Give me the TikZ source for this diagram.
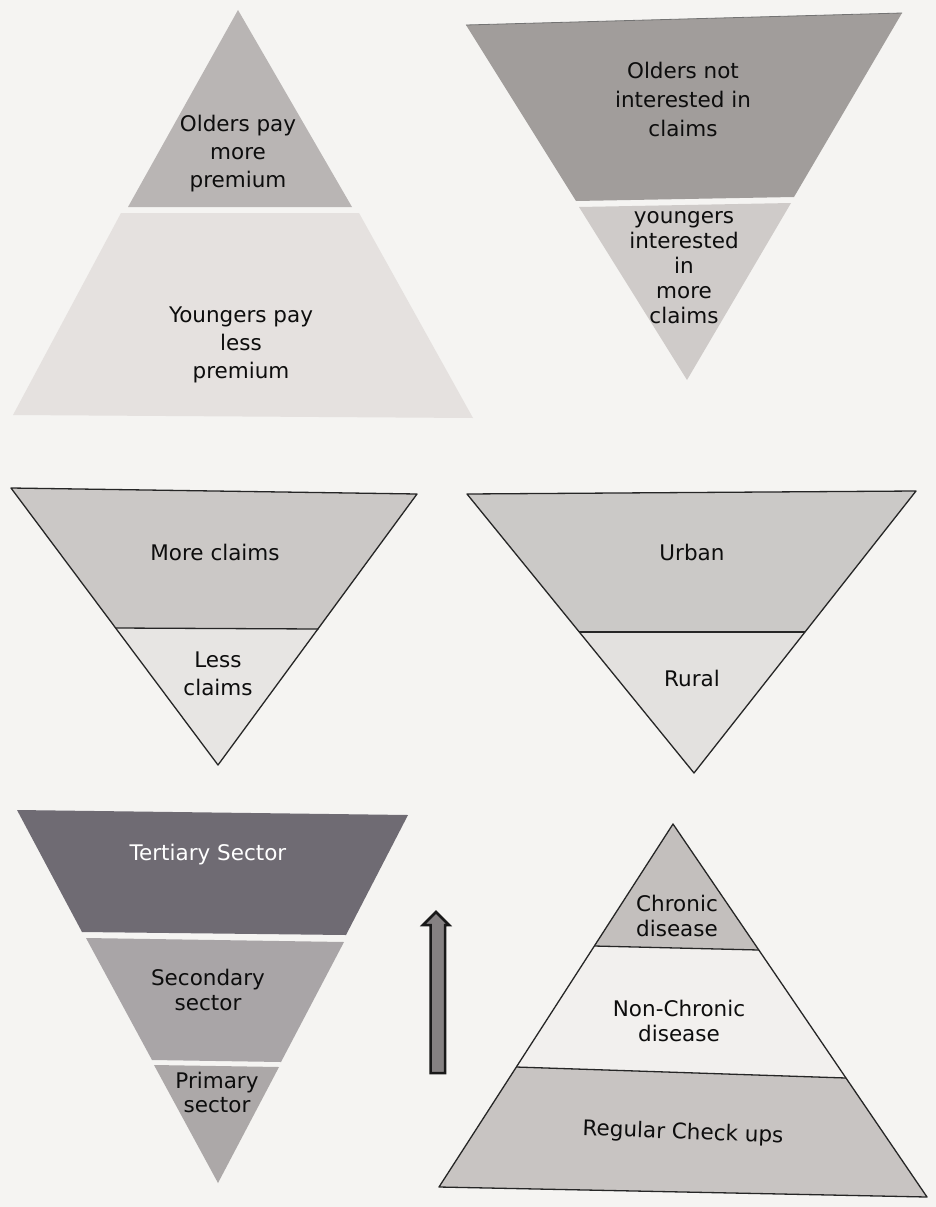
\documentclass[tikz,border=0pt]{standalone}
\usepackage{fontspec}
\setmainfont{DejaVu Sans}
\definecolor{bgc}{HTML}{F5F4F2}
\definecolor{ta}{HTML}{B9B5B4}
\definecolor{tb}{HTML}{E5E1DF}
\definecolor{tc}{HTML}{A19D9B}
\definecolor{td}{HTML}{CFCBC9}
\definecolor{te}{HTML}{CBC8C6}
\definecolor{tf}{HTML}{E7E5E3}
\definecolor{tg}{HTML}{CBC9C7}
\definecolor{th}{HTML}{E3E1DF}
\definecolor{ti}{HTML}{6F6B73}
\definecolor{tj}{HTML}{A9A5A7}
\definecolor{tk}{HTML}{ACA8A8}
\definecolor{tl}{HTML}{C3BFBD}
\definecolor{tm}{HTML}{F2F0EE}
\definecolor{tn}{HTML}{C8C4C2}
\definecolor{arr}{HTML}{858182}
\definecolor{txt}{HTML}{0D0D0D}
\tikzset{
  lbl/.style={inner sep=0pt, align=center, text=txt, font=\fontsize{21.5}{28}\selectfont},
  tight/.style={font=\fontsize{21.5}{25}\selectfont},
  edge/.style={draw=black!85, line width=1.3pt, line join=round},
}
\begin{document}
\begin{tikzpicture}[x=1pt,y=-1pt]
\useasboundingbox (0,0) rectangle (936,1207);
\fill[bgc] (0,0) rectangle (936,1207);

% ---- Triangle 1 (upright, no outline)
\fill[ta] (238,10) -- (352,207) -- (128,207) -- cycle;
\fill[tb] (121,213) -- (359,213) -- (473,418) -- (13,415) -- cycle;
\node[lbl] (t1a) at (238,154) {Olders pay\\more\\premium};
\node[lbl] (t1b) at (241,345) {Youngers pay\\less\\premium};

% ---- Triangle 2 (inverted, no outline)
\fill[tc] (466,25) -- (902,13) -- (794,197) -- (576,201) -- cycle;
\draw[black!55, line width=0.8pt] (466,25) -- (902,13);
\fill[td] (579,207) -- (791,203) -- (687,380) -- cycle;
\node[lbl,font=\fontsize{21.5}{29}\selectfont] (t2a) at (683,99) {Olders not\\interested in\\claims};
\node[lbl,tight] (t2b) at (684,268) {youngers\\interested\\in\\more\\claims};

% ---- Triangle 3 (inverted, outlined)
\fill[te] (11,488) -- (417,494) -- (318.6,629) -- (115.6,628) -- cycle;
\fill[tf] (115.6,628) -- (318.6,629) -- (218,765) -- cycle;
\draw[edge] (11,488) -- (417,494) -- (218,765) -- cycle;
\draw[edge] (115.6,628) -- (318.6,629);
\node[lbl] (t3a) at (215,552) {More claims};
\node[lbl] (t3b) at (218,674) {Less\\claims};

% ---- Triangle 4 (inverted, outlined)
\fill[tg] (467,494) -- (916,491) -- (805,632) -- (579,632) -- cycle;
\fill[th] (579,632) -- (805,632) -- (694,773) -- cycle;
\draw[edge] (467,494) -- (916,491) -- (694,773) -- cycle;
\draw[edge] (579,632) -- (805,632);
\node[lbl] (t4a) at (692,552) {Urban};
\node[lbl] (t4b) at (692,678) {Rural};

% ---- Triangle 5 (inverted, three bands)
\fill[ti] (17,810) -- (408,815) -- (346,935) -- (82,932) -- cycle;
\fill[tj] (86,938) -- (344,942) -- (281,1062) -- (152,1060) -- cycle;
\fill[tk] (154,1065) -- (279,1067) -- (218,1183) -- cycle;
\node[lbl,text=white] (t5a) at (208,855) {Tertiary Sector};
\node[lbl,tight] (t5b) at (208,990) {Secondary\\sector};
\node[lbl,font=\fontsize{21.5}{24}\selectfont] (t5c) at (217,1092) {Primary\\sector};

% ---- Block arrow
\filldraw[fill=arr, draw=black!90, line width=2.5pt, line join=miter]
  (430.5,1073) -- (430.5,925) -- (423,925) -- (436,912) -- (449,925) -- (445,925) -- (445,1073) -- cycle;

% ---- Triangle 6 (upright, three bands, outlined)
\fill[tl] (673,824) -- (759,950) -- (594,946) -- cycle;
\fill[tm] (594,946) -- (759,950) -- (846,1078) -- (516,1067) -- cycle;
\fill[tn] (516,1067) -- (846,1078) -- (927,1197) -- (439,1187) -- cycle;
\draw[edge] (673,824) -- (927,1197) -- (439,1187) -- cycle;
\draw[edge] (594,946) -- (759,950);
\draw[edge] (516,1067) -- (846,1078);
\node[lbl,tight] (t6a) at (677,916) {Chronic\\disease};
\node[lbl,tight] (t6b) at (679,1021) {Non-Chronic\\disease};
\node[lbl,rotate=-2] (t6c) at (683,1133) {Regular Check ups};
\end{tikzpicture}
\end{document}
